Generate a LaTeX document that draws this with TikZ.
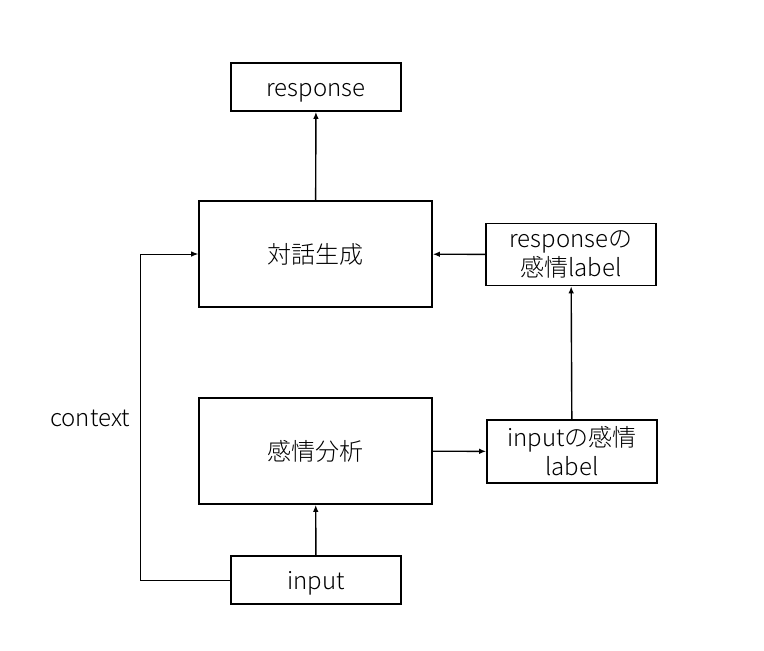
\documentclass[tikz,border=0pt]{standalone}
\usepackage{fontspec}
\setmainfont{Noto Sans CJK JP Light}
\usetikzlibrary{arrows.meta}
\tikzset{
  box/.style={draw, line width=1.6pt, inner sep=0pt, align=center, font=\fontsize{24}{29}\selectfont},
  latinbox/.style={box, text height=19pt, text depth=0pt},
  arr/.style={line width=1.4pt, -{Latex[length=7pt,width=5.5pt]}},
}
\begin{document}
\begin{tikzpicture}[x=1pt, y=-1pt]
        \useasboundingbox (0,0) rectangle (764,651);
        \node[latinbox, minimum width=170pt, minimum height=48pt] (resp) at (316,87) {response};
        \node[box, minimum width=233pt, minimum height=106pt] (gen) at (315.5,254) {対話生成};
        \node[box, minimum width=170pt, minimum height=62pt] (resplabel) at (571,254.5) {responseの\\感情label};
        \node[box, minimum width=233pt, minimum height=106pt] (ana) at (315.5,451) {感情分析};
        \node[box, minimum width=170pt, minimum height=63pt] (inlabel) at (572,451.5) {inputの感情\\label};
        \node[latinbox, minimum width=170pt, minimum height=48pt] (in) at (316,580) {input};
        \node[font=\fontsize{24}{29}\selectfont] (ctx) at (90,418) {context};
        \coordinate (bend1) at (140,580);
        \coordinate (bend2) at (140,254);

        % Edges
        \draw[arr] (in) -- (ana);
        \draw[arr] (ana) -- (inlabel);
        \draw[arr] (inlabel) -- (resplabel);
        \draw[arr] (resplabel) -- (gen);
        \draw[arr] (gen) -- (resp);
        \draw[line width=1pt] (in.west) -- (bend1) -- (bend2);
        \draw[arr, line width=1pt] (bend2) -- (gen.west);
\end{tikzpicture}
\end{document}
